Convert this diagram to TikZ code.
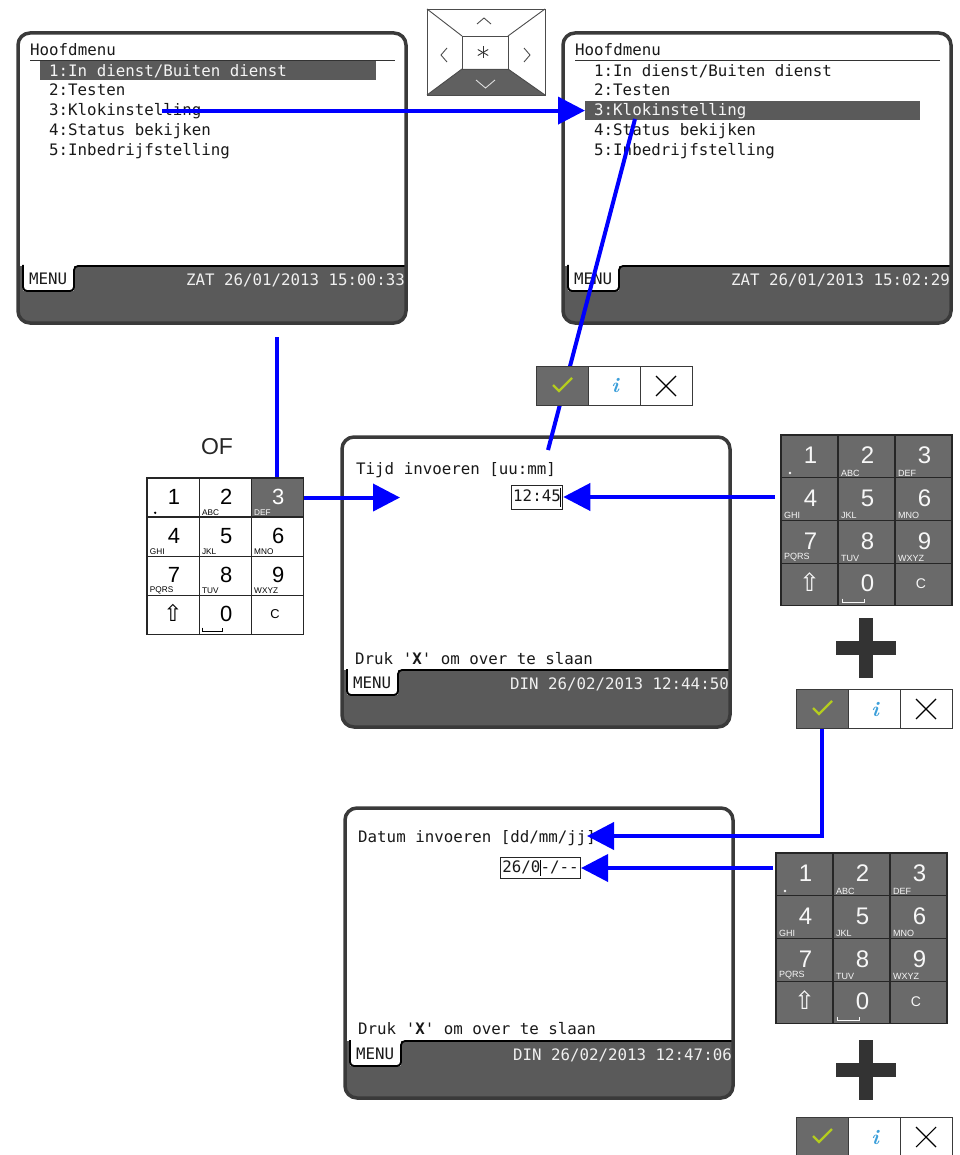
\documentclass[tikz,border=0pt]{standalone}
\usepackage{fontspec}
\setsansfont{Liberation Sans}
\newfontfamily\lcdfont{DejaVu Sans Mono}[Ligatures=ResetAll]
\newfontfamily\glyphfont{DejaVu Sans}
\usepackage{xcolor}
\usetikzlibrary{arrows.meta, positioning, calc}

\definecolor{lcdgray}{HTML}{5A5A5A}
\definecolor{lcdedge}{HTML}{3A3A3A}
\definecolor{keygray}{HTML}{6A6A6A}
\definecolor{okgreen}{HTML}{B4CC1E}
\definecolor{infoblue}{HTML}{3C9FDA}
\definecolor{plusgray}{HTML}{333333}

\tikzset{
  pics/lcd/.style={code={
    \node[minimum width=388pt, minimum height=290pt, inner sep=0pt, anchor=north west] (-frame) at (0,0) {};
    \begin{scope}
      \clip[rounded corners=12pt] (0,0) rectangle (388,290);
      \fill[white] (0,0) rectangle (388,233);
      \fill[lcdgray] (0,233) rectangle (388,290);
      \fill[white] (5,230) rectangle (56,258);
      \draw[black, line width=1.8pt, rounded corners=4pt] (5,232) -- (5,258) -- (56,258) -- (56,233) -- (395,233);
      \node[lcdtext, anchor=west] (-tab) at (11,247) {MENU};
      \node[lcdfoot, anchor=east] (-date) at (387,248) {#1};
    \end{scope}
    \draw[lcdedge, line width=3.5pt, rounded corners=12pt] (0,0) rectangle (388,290);
  }},
  pics/keypad/.style n args={3}{code={
    \foreach \d/\s [count=\i from 0] in {1/{}, 2/ABC, 3/DEF, 4/GHI, 5/JKL, 6/MNO, 7/PQRS, 8/TUV, 9/WXYZ, {}/{}, 0/{}, {}/{}} {
      \pgfmathsetmacro\kx{mod(\i,3)*57+28.5}
      \pgfmathsetmacro\ky{floor(\i/3)*42.7+21.35}
      \ifnum\i=#3\relax
        \node[keycell, fill=keygray] (-k\i) at (\kx,\ky) {};
        \def\kcol{white}
      \else
        \node[keycell, fill=#1] (-k\i) at (\kx,\ky) {};
        \def\kcol{#2}
      \fi
      \node[keydigit, text=\kcol] at (\kx+1,\ky-1) {\d};
      \node[keyletters, text=\kcol, anchor=south west] at (\kx-25.5,\ky+20) {\s};
    }
    \fill[#2] (9,38) circle (1.4pt);
    \node[text=#2, font=\glyphfont\fontsize{25}{25}\selectfont, inner sep=0pt] at (28.5,147) {⇧};
    \draw[#2, line width=0.9pt] (61,163.5) -- (61,167.5) -- (83,167.5) -- (83,163.5);
    \node[text=#2, font=\sffamily\fontsize{14}{14}\selectfont, inner sep=0pt] at (140,149) {C};
  }},
  pics/okrow/.style={code={
    \node[okcell, fill=keygray] (-ok) at (26,20) {};
    \node[okcell] (-info) at (78,20) {};
    \node[okcell] (-esc) at (130,20) {};
    \draw[okgreen, line width=2.4pt] (17,19) -- (23,25) -- (36,12);
    \node[infomark] at (79,20) {i};
    \draw[black, line width=1.1pt] (120,10) -- (140,30) (140,10) -- (120,30);
  }},
}

\begin{document}
\begin{tikzpicture}[x=1pt, y=-1pt,
    lcdtext/.style={font=\lcdfont\fontsize{15.8}{18}\selectfont, text=black!90, inner sep=0pt, text height=11.5pt, text depth=3pt},
    lcdfoot/.style={lcdtext, text=gray!12},
    lcdsel/.style={lcdtext, text=gray!8},
    hlbar/.style={fill=lcdgray, minimum height=19pt, inner sep=0pt},
    lcdrule/.style={draw=black!80, line width=1pt},
    entry/.style={lcdtext, draw=black!85, line width=1pt, inner sep=2pt, minimum height=24pt},
    keycell/.style={rectangle, draw=black!85, line width=1.2pt, minimum width=57pt, minimum height=42.7pt, inner sep=0pt},
    keydigit/.style={font=\sffamily\fontsize{24}{24}\selectfont, inner sep=0pt},
    keyletters/.style={font=\sffamily\fontsize{9}{9}\selectfont, inner sep=0pt},
    okcell/.style={rectangle, draw=lcdedge, line width=1pt, fill=white, minimum width=52pt, minimum height=39.5pt, inner sep=0pt},
    infomark/.style={font=\fontsize{21}{21}\selectfont\bfseries\itshape, text=infoblue, inner sep=0pt},
    padline/.style={draw=gray!60!black, line width=0.9pt},
    flow/.style={draw=blue, line width=4pt, -{Triangle[length=27pt, width=27pt]}},
    flowline/.style={draw=blue, line width=4pt}
]
    \useasboundingbox (0,0) rectangle (959,1155);

    \pic (s1) at (18,33) {lcd={ZAT 26/01/2013 15:00:33}};
    \draw[lcdrule] (30,61) -- (395,61);
    \node[hlbar, minimum width=336pt, anchor=west] (s1bar) at (40,71) {};
    \node[lcdtext, anchor=west] (s1title) at (30,51) {Hoofdmenu};
    \node[lcdsel, anchor=west] (s1r1) at (49,72) {1:In dienst/Buiten dienst};
    \node[lcdtext, below=4.8pt of s1r1.south west, anchor=north west] (s1r2) {2:Testen};
    \node[lcdtext, below=4.8pt of s1r2.south west, anchor=north west] (s1r3) {3:Klokinstelling};
    \node[lcdtext, below=4.8pt of s1r3.south west, anchor=north west] (s1r4) {4:Status bekijken};
    \node[lcdtext, below=4.8pt of s1r4.south west, anchor=north west] (s1r5) {5:Inbedrijfstelling};

    \pic (s2) at (563,33) {lcd={ZAT 26/01/2013 15:02:29}};
    \draw[lcdrule] (575,61) -- (940,61);
    \node[hlbar, minimum width=335pt, anchor=west] (s2bar) at (585,110.6) {};
    \node[lcdtext, anchor=west] (s2title) at (575,51) {Hoofdmenu};
    \node[lcdtext, anchor=west] (s2r1) at (594,72) {1:In dienst/Buiten dienst};
    \node[lcdtext, below=4.8pt of s2r1.south west, anchor=north west] (s2r2) {2:Testen};
    \node[lcdsel, below=4.8pt of s2r2.south west, anchor=north west] (s2r3) {3:Klokinstelling};
    \node[lcdtext, below=4.8pt of s2r3.south west, anchor=north west] (s2r4) {4:Status bekijken};
    \node[lcdtext, below=4.8pt of s2r4.south west, anchor=north west] (s2r5) {5:Inbedrijfstelling};

    \pic (s3) at (342,437) {lcd={DIN 26/02/2013 12:44:50}};
    \node[lcdtext, anchor=west] (s3title) at (356,470) {Tijd invoeren [uu:mm]};
    \node[entry] (box1) at (537,497) {12:45};
    \draw[black, line width=0.9pt] ([xshift=-2.5pt, yshift=-3pt]box1.north east) -- ([xshift=-2.5pt, yshift=3pt]box1.south east);
    \node[lcdtext, anchor=west] (s3hint) at (355,660) {Druk '{\bfseries X}' om over te slaan};

    \pic (s4) at (345,808) {lcd={DIN 26/02/2013 12:47:06}};
    \node[lcdtext, anchor=west] (s4title) at (358,838) {Datum invoeren [dd/mm/jj]};
    \node[entry, minimum height=21pt] (box2) at (540.5,868) {26/0-/--};
    \draw[black, line width=0.9pt] ([yshift=-3pt]box2.north) -- ([yshift=3pt]box2.south);
    \node[lcdtext, anchor=west] (s4hint) at (358,1030) {Druk '{\bfseries X}' om over te slaan};

    \draw[padline] (427,9) rectangle (545,95);
    \fill[gray!75!black] (462,69) -- (508,69) -- (545,95) -- (427,95) -- cycle;
    \draw[padline] (462,36) rectangle (508,69);
    \draw[padline] (427,9) -- (462,36) (545,9) -- (508,36) (427,95) -- (462,69) (545,95) -- (508,69);
    \draw[padline] (477,24) -- (484,18) -- (491,24);
    \draw[padline] (447,48) -- (441,55) -- (447,62);
    \draw[padline] (524,48) -- (530,55) -- (524,62);
    \draw[padline, draw=gray!25] (476,80) -- (485.5,88) -- (495,80);
    \foreach \a in {90,30,150}
        \draw[padline, draw=black!80] (483,52.5) +(\a:6pt) -- +(\a+180:6pt);

    \coordinate (a1s) at (162,110.6);
    \coordinate (l2s) at (635,119);
    \coordinate (l2e) at (548,450);
    \draw[flow] (a1s) -- (s2bar.west);
    \draw[flowline] (l2s) -- (l2e);

    \node[font=\sffamily\fontsize{23}{23}\selectfont, text=black!85] (or) at (217,447) {OF};
    \pic[scale=0.915, transform shape] (kp1) at (147,478) {keypad={white}{black}{2}};
    \pic (kp2) at (781,435) {keypad={keygray}{gray!6}{-1}};
    \pic (kp3) at (776,853) {keypad={keygray}{gray!6}{-1}};
    \pic (ok1) at (536,366) {okrow};
    \pic (ok2) at (796,689) {okrow};
    \pic (ok3) at (796,1117) {okrow};
    \foreach \py in {648,1070} {
        \fill[plusgray] (836,\py-7) rectangle (896,\py+7);
        \fill[plusgray] (859,\py-30) rectangle (873,\py+30);
    }

    \coordinate (l3s) at (0,337);
    \coordinate (a4e) at (400,0);
    \coordinate (a5s) at (775,0);
    \coordinate (a6e) at (587,836);
    \coordinate (a7s) at (773,0);
    \draw[flowline] (kp1-k2.north) -- (kp1-k2.north |- l3s);
    \draw[flow] (kp1-k2.east) -- (kp1-k2.east -| a4e);
    \draw[flow] (box1.east -| a5s) -- (box1.east);
    \draw[flow] (ok2-ok.south) |- (a6e);
    \draw[flow] (box2.east -| a7s) -- (box2.east);
\end{tikzpicture}
\end{document}
